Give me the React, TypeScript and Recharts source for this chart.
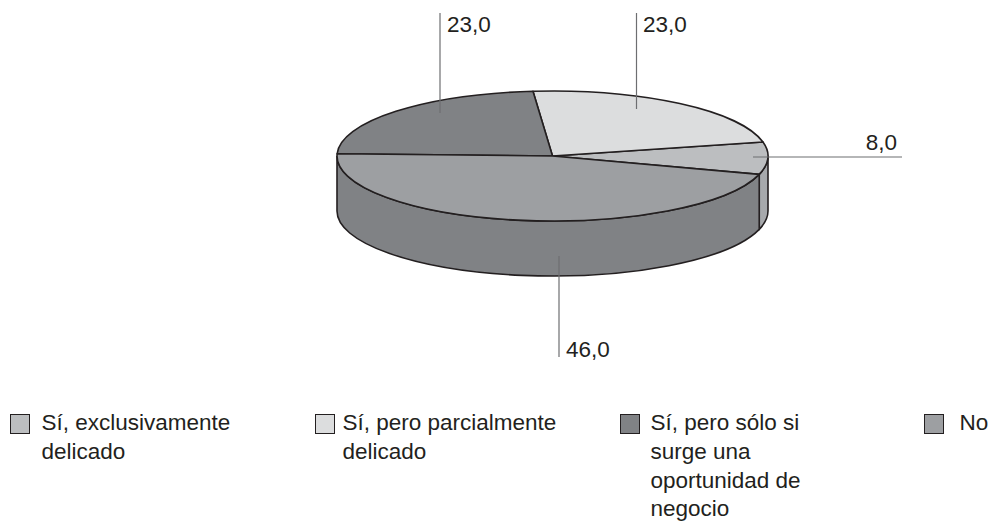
import { Legend, Pie, PieChart } from "recharts";

const categories = [
  "Sí, exclusivamente delicado",
  "Sí, pero parcialmente delicado",
  "Sí, pero sólo si surge una oportunidad de negocio",
  "No",
];
const shares = [8, 23, 23, 46];

const topFills = ["#bcbec0", "#dcddde", "#808285", "#9d9fa2"];
const wallFills = ["#a7a9ac", "#bcbec0", "#6d6e71", "#808285"];

const INK = "#231f20";
const LEADER = "#6d6e71";
const FONT = '"Liberation Sans", Arial, sans-serif';

const WIDTH = 992;
const HEIGHT = 521;
const CX = 552.5;
const CY = 156;
const RADIUS = 215.5;
const TILT = 65 / 215.5; // vertical squash of the disc
const DEPTH = 55;

// start of each leader line, end of it, and where its number sits
const leaders = [
  { x1: 753, y1: 157, x2: 902, y2: 157, tx: 897, ty: 150, anchor: "end" },
  { x1: 636.5, y1: 109, x2: 636.5, y2: 13, tx: 643, ty: 32, anchor: "start" },
  { x1: 440, y1: 113, x2: 440, y2: 13, tx: 447, ty: 32, anchor: "start" },
  { x1: 559, y1: 256, x2: 559, y2: 357, tx: 566, ty: 357, anchor: "start" },
];

// column placement of the legend entries
const legendLeft = [9.5, 314.5, 619.5, 923.5];
const legendGap = [11.5, 7.5, 10.5, 15.5];
const legendTextWidth = [215, 240, 180, 50];

const chartData = categories.map((name, i) => ({
  name,
  value: shares[i],
  fill: topFills[i],
  wall: wallFills[i],
}));

const ellipsePoint = (cx: number, cy: number, r: number, deg: number) => {
  const rad = (deg * Math.PI) / 180;
  return [cx + r * Math.cos(rad), cy - r * TILT * Math.sin(rad)];
};

// the part of a slice that faces the viewer, i.e. its arc below the horizontal
const frontArc = (start: number, end: number): [number, number] | null => {
  for (const [lo, hi] of [
    [-180, 0],
    [180, 360],
  ]) {
    const a = Math.max(start, lo);
    const b = Math.min(end, hi);
    if (b > a) return [a, b];
  }
  return null;
};

function DiscSlice(props: any) {
  const { cx, cy, outerRadius, startAngle, endAngle, fill, wall } = props;
  const r = outerRadius;
  const ry = r * TILT;
  const [sx, sy] = ellipsePoint(cx, cy, r, startAngle);
  const [ex, ey] = ellipsePoint(cx, cy, r, endAngle);
  const large = endAngle - startAngle > 180 ? 1 : 0;
  const top = `M${cx},${cy} L${sx},${sy} A${r},${ry} 0 ${large} 0 ${ex},${ey} Z`;

  const front = frontArc(startAngle, endAngle);
  let side = null;
  if (front) {
    const [ax, ay] = ellipsePoint(cx, cy, r, front[0]);
    const [bx, by] = ellipsePoint(cx, cy, r, front[1]);
    const d =
      `M${ax},${ay} A${r},${ry} 0 0 0 ${bx},${by} L${bx},${by + DEPTH} ` +
      `A${r},${ry} 0 0 1 ${ax},${ay + DEPTH} Z`;
    side = <path d={d} fill={wall} stroke={INK} strokeWidth={1.6} />;
  }

  return (
    <g>
      {side}
      <path d={top} fill={fill} stroke={INK} strokeWidth={1.6} strokeLinejoin="round" />
    </g>
  );
}

function ValueLabel({ index, value }: any) {
  const l = leaders[index];
  return (
    <g>
      <line x1={l.x1} y1={l.y1} x2={l.x2} y2={l.y2} stroke={LEADER} strokeWidth={1.2} />
      <text
        x={l.tx}
        y={l.ty}
        textAnchor={l.anchor as "start" | "end"}
        fontFamily={FONT}
        fontSize={22.5}
        fill={INK}
      >
        {value.toFixed(1).replace(".", ",")}
      </text>
    </g>
  );
}

function LegendBlocks({ payload }: any) {
  return (
    <div style={{ position: "relative", width: WIDTH, height: 111 }}>
      {(payload ?? []).map((entry: any, i: number) => (
        <div
          key={entry.value}
          style={{ position: "absolute", left: legendLeft[i], top: 0, display: "flex" }}
        >
          <span
            style={{
              boxSizing: "border-box",
              width: 20.5,
              height: 20.5,
              marginTop: 4.5,
              background: topFills[i],
              border: `1.5px solid ${INK}`,
              flex: "none",
            }}
          />
          <span
            style={{
              marginLeft: legendGap[i],
              width: legendTextWidth[i],
              fontFamily: FONT,
              fontSize: 22.5,
              lineHeight: "28.8px",
              color: INK,
            }}
          >
            {entry.value}
          </span>
        </div>
      ))}
    </div>
  );
}

export default function App() {
  return (
    <div style={{ position: "absolute", left: 0, top: 0, width: WIDTH, height: HEIGHT, background: "#fff" }}>
      <PieChart width={WIDTH} height={HEIGHT} margin={{ top: 0, right: 0, bottom: 0, left: 0 }}>
        <Pie
          data={chartData}
          dataKey="value"
          nameKey="name"
          cx={CX}
          cy={CY}
          outerRadius={RADIUS}
          startAngle={-16.4}
          endAngle={343.6}
          paddingAngle={0}
          shape={DiscSlice}
          label={ValueLabel}
          labelLine={false}
          isAnimationActive={false}
        />
        <Legend
          content={LegendBlocks}
          itemSorter={null}
          wrapperStyle={{ position: "absolute", left: 0, top: 409, width: WIDTH }}
        />
      </PieChart>
    </div>
  );
}
